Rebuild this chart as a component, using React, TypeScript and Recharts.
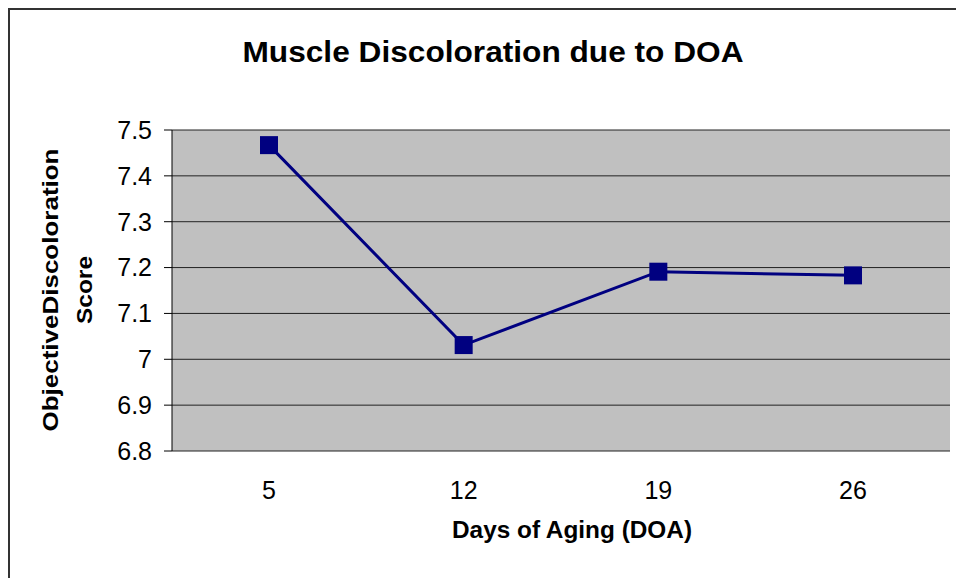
import React from 'react';
import {
  ComposedChart,
  Line,
  XAxis,
  YAxis,
  CartesianGrid,
  ReferenceLine,
} from 'recharts';

const days = ['5', '12', '19', '26'];
const scores = [7.467, 7.031, 7.191, 7.183];
const yTicks = [6.8, 6.9, 7.0, 7.1, 7.2, 7.3, 7.4, 7.5];
const bandEdges = [0, 1, 2, 3, 4];

const data = days.map((d, i) => ({ day: d, score: scores[i] }));

const FONT = '"Liberation Sans", Arial, sans-serif';
const NAVY = '#000080';

const SquareDot = (props: any) => {
  const { cx, cy } = props;
  if (cx == null || cy == null) return null;
  return <rect x={cx - 9} y={cy - 9} width={18} height={18} fill={NAVY} />;
};

const YTitle = () => (
  <text
    transform="translate(58,290) rotate(-90)"
    textAnchor="middle"
    fontFamily={FONT}
    fontWeight="bold"
    fontSize={22}
    fill="#000"
  >
    <tspan x={0} y={0} textLength={283} lengthAdjust="spacingAndGlyphs">
      ObjectiveDiscoloration
    </tspan>
    <tspan x={0} y={34} textLength={68} lengthAdjust="spacingAndGlyphs">
      Score
    </tspan>
  </text>
);

const XTitle = () => (
  <text
    x={572}
    y={538}
    textAnchor="middle"
    fontFamily={FONT}
    fontWeight="bold"
    fontSize={24}
    textLength={240}
    lengthAdjust="spacingAndGlyphs"
    fill="#000"
  >
    Days of Aging (DOA)
  </text>
);

export default function App() {
  return (
    <div
      style={{
        position: 'fixed',
        left: 0,
        top: 0,
        width: 956,
        height: 578,
        overflow: 'hidden',
        background: '#fff',
      }}
    >
      <div
        style={{
          position: 'absolute',
          left: 8,
          top: 8,
          width: 1000,
          height: 1000,
          border: '2px solid #333',
        }}
      />
      <svg
        width={956}
        height={100}
        style={{ position: 'absolute', left: 0, top: 0 }}
      >
        <text
          x={493}
          y={62}
          textAnchor="middle"
          fontFamily={FONT}
          fontWeight="bold"
          fontSize={29}
          textLength={501}
          lengthAdjust="spacingAndGlyphs"
          fill="#000"
        >
          Muscle Discoloration due to DOA
        </text>
      </svg>
      <ComposedChart
        width={956}
        height={578}
        data={data}
        margin={{ top: 130, right: 6, bottom: 0, left: 0 }}
        style={{ position: 'absolute', left: 0, top: 0 }}
      >
        <CartesianGrid
          xAxisId="edges"
          vertical={false}
          fill="#c0c0c0"
          fillOpacity={1}
          stroke="#222"
          strokeWidth={1}
        />
        <XAxis
          xAxisId="edges"
          type="number"
          domain={[0, 4]}
          ticks={bandEdges}
          tick={false}
          tickSize={8}
          height={0}
          axisLine={{ stroke: '#000' }}
          tickLine={{ stroke: '#000' }}
        />
        <XAxis
          xAxisId="cat"
          dataKey="day"
          padding={{ left: 97, right: 97 }}
          axisLine={false}
          tickLine={false}
          tickMargin={24}
          height={127}
          tick={{ fontFamily: FONT, fontSize: 25, fill: '#000' }}
          label={{ content: <XTitle /> }}
        />
        <YAxis
          domain={[6.8, 7.5]}
          ticks={yTicks}
          width={172}
          tickSize={8}
          tickMargin={12}
          interval={0}
          tickFormatter={(v: number) => String(Number(v.toFixed(1)))}
          axisLine={{ stroke: '#000' }}
          tickLine={{ stroke: '#000' }}
          tick={{ fontFamily: FONT, fontSize: 25, fill: '#000' }}
          label={{ content: <YTitle /> }}
        />
        <ReferenceLine xAxisId="edges" x={4} stroke="#555" />
        <Line
          xAxisId="cat"
          dataKey="score"
          stroke={NAVY}
          strokeWidth={3}
          dot={<SquareDot />}
          activeDot={false}
          isAnimationActive={false}
        />
      </ComposedChart>
    </div>
  );
}
